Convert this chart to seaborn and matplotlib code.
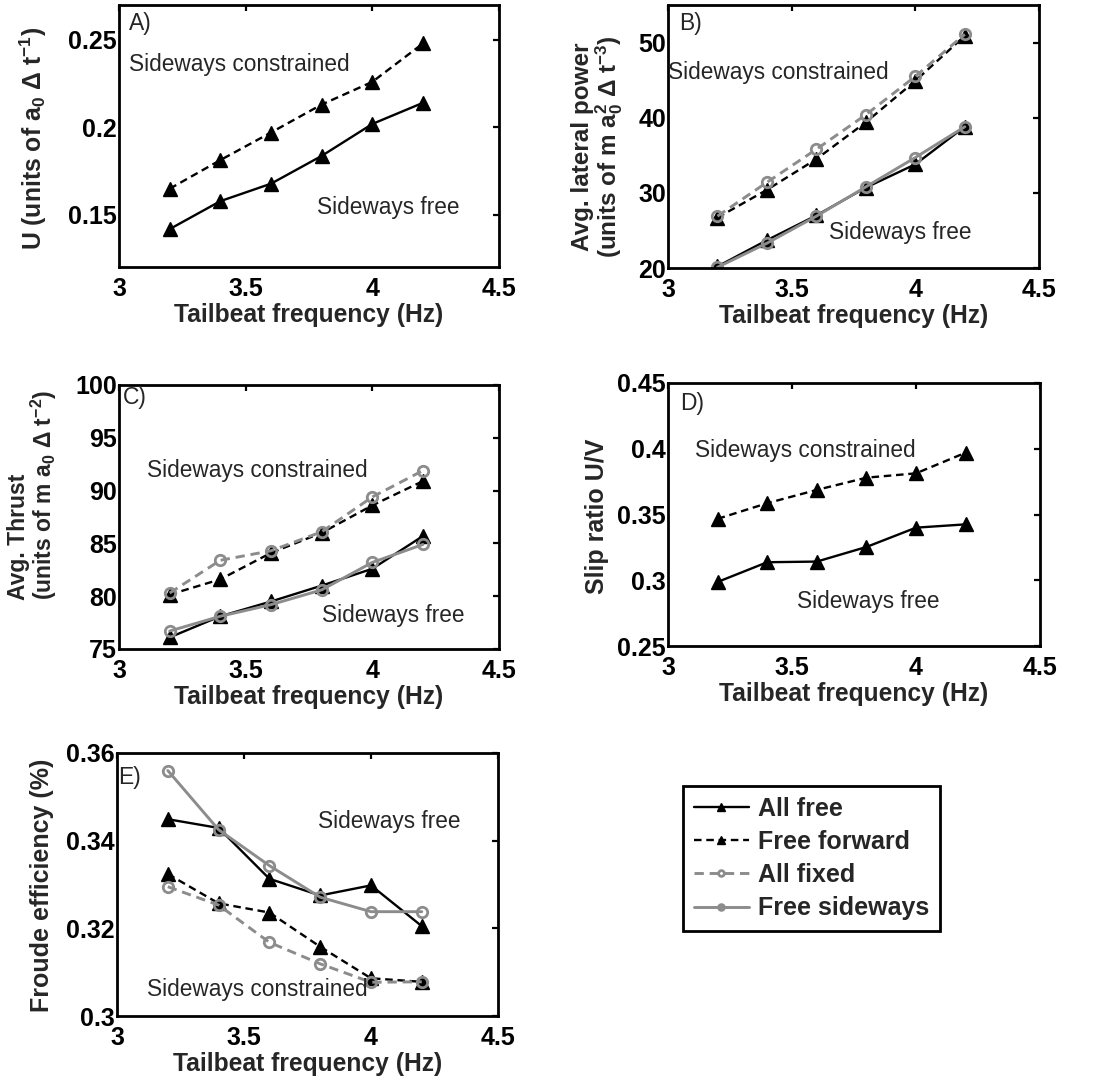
import matplotlib
matplotlib.use("Agg")
import matplotlib.pyplot as plt
from matplotlib.ticker import FixedLocator, FormatStrFormatter
import seaborn as sns

# Tailbeat frequencies (Hz)
freq = [3.2, 3.4, 3.6, 3.8, 4.0, 4.2]

# A) swimming speed U
speed_all_free = [0.1417, 0.1577, 0.1677, 0.1836, 0.2019, 0.2140]
speed_free_forward = [0.1648, 0.1812, 0.1970, 0.2130, 0.2260, 0.2480]

# B) average lateral power
power_all_free = [20.2, 23.7, 27.0, 30.7, 33.8, 38.8]
power_free_forward = [26.7, 30.4, 34.5, 39.4, 44.9, 50.9]
power_all_fixed = [26.9, 31.4, 35.8, 40.4, 45.5, 51.1]
power_free_sideways = [20.1, 23.3, 26.9, 30.8, 34.7, 38.8]

# C) average thrust
thrust_all_free = [76.1, 78.1, 79.5, 81.0, 82.6, 85.7]
thrust_free_forward = [80.15, 81.6, 84.1, 86.0, 88.6, 90.9]
thrust_all_fixed = [80.3, 83.4, 84.3, 86.1, 89.4, 91.9]
thrust_free_sideways = [76.7, 78.1, 79.2, 80.6, 83.2, 84.9]

# D) slip ratio U/V
slip_all_free = [0.2987, 0.3137, 0.3142, 0.3253, 0.3400, 0.3425]
slip_free_forward = [0.3467, 0.3586, 0.3687, 0.3780, 0.3813, 0.3970]

# E) Froude efficiency
eff_all_free = [0.3449, 0.3429, 0.3313, 0.3275, 0.3298, 0.3205]
eff_free_forward = [0.3324, 0.3257, 0.3236, 0.3158, 0.3086, 0.3078]
eff_all_fixed = [0.3295, 0.3253, 0.3168, 0.3119, 0.3077, 0.3078]
eff_free_sideways = [0.3560, 0.3425, 0.3343, 0.3271, 0.3238, 0.3238]

x_ticks = [3, 3.5, 4, 4.5]

sns.set_style("white")
plt.rcParams.update({
    "font.family": ["Liberation Sans", "DejaVu Sans"],
    "font.weight": "bold",
    "mathtext.fontset": "custom",
    "mathtext.rm": "Liberation Sans:bold",
    "mathtext.it": "Liberation Sans:bold",
    "mathtext.bf": "Liberation Sans:bold",
    "mathtext.default": "rm",
    "lines.dashed_pattern": [3.2, 2.0],
    "axes.linewidth": 2.0,
    "axes.edgecolor": "black",
    "xtick.direction": "in",
    "ytick.direction": "in",
    "xtick.top": True,
    "ytick.right": True,
})

GRAY = "#8c8c8c"
STYLE = {
    "All free": dict(color="black", linestyle="-", marker="^", markersize=9.5,
                     markerfacecolor="black", markeredgecolor="black",
                     markeredgewidth=1.0, linewidth=1.7),
    "Free forward": dict(color="black", linestyle="--", marker="^", markersize=9.5,
                         markerfacecolor="black", markeredgecolor="black",
                         markeredgewidth=1.0, linewidth=1.7),
    "All fixed": dict(color=GRAY, linestyle="--", marker="o", markersize=7.5,
                      markerfacecolor="none", markeredgecolor=GRAY,
                      markeredgewidth=2.0, linewidth=2.1),
    "Free sideways": dict(color=GRAY, linestyle="-", marker="o", markersize=7.5,
                          markerfacecolor="none", markeredgecolor=GRAY,
                          markeredgewidth=2.0, linewidth=2.1),
}

W, H = 1095, 1082
fig = plt.figure(figsize=(W / 100, H / 100), dpi=100)


def make_axes(left, top, right, bottom):
    return fig.add_axes([left / W, 1 - bottom / H, (right - left) / W, (bottom - top) / H])


def draw_panel(ax, series, ylim, yticks, tag, tag_pos):
    for name, values in series:
        sns.lineplot(x=freq, y=values, ax=ax, label=name, **STYLE[name])
    if ax.get_legend() is not None:
        ax.get_legend().remove()
    ax.set_xlim(3, 4.5)
    ax.set_ylim(*ylim)
    ax.xaxis.set_major_locator(FixedLocator(x_ticks))
    ax.xaxis.set_major_formatter(FormatStrFormatter("%g"))
    ax.yaxis.set_major_locator(FixedLocator(yticks))
    ax.yaxis.set_major_formatter(FormatStrFormatter("%g"))
    ax.tick_params(axis="both", which="major", length=4.5, width=1.6,
                   labelsize=18, colors="black")
    ax.tick_params(axis="x", pad=7.5)
    ax.tick_params(axis="y", pad=1.5)
    for lab in ax.get_xticklabels() + ax.get_yticklabels():
        lab.set_fontweight("bold")
    ax.set_xlabel("Tailbeat frequency (Hz)", fontsize=17.7, fontweight="bold", labelpad=1)
    ax.set_ylabel("")
    ax.text(tag_pos[0], tag_pos[1], tag, transform=ax.transAxes, ha="left", va="top",
            fontsize=16.5, fontweight="normal")
    for s in ax.spines.values():
        s.set_visible(True)
        s.set_linewidth(2.0)


def note(ax, x, y, text):
    ax.text(x, y, text, ha="left", va="center", fontsize=16.3, fontweight="normal",
            clip_on=False)


# A
axA = make_axes(119, 5, 499, 267)
draw_panel(axA, [("All free", speed_all_free), ("Free forward", speed_free_forward)],
           (0.12, 0.27), [0.15, 0.2, 0.25], "A)", (0.025, 0.975))
note(axA, 3.04, 0.236, "Sideways constrained")
note(axA, 3.78, 0.154, "Sideways free")
fig.text(33 / W, 1 - 138 / H, r"U (units of a$_0$ Δ t$^{-1}$)", rotation=90,
         ha="center", va="center", fontsize=17.8, fontweight="bold")

# B
axB = make_axes(668, 5, 1039, 268)
draw_panel(axB, [("All free", power_all_free), ("Free forward", power_free_forward),
                 ("All fixed", power_all_fixed), ("Free sideways", power_free_sideways)],
           (20, 55), [20, 30, 40, 50], "B)", (0.03, 0.975))
note(axB, 3.0, 46.0, "Sideways constrained")
note(axB, 3.65, 24.7, "Sideways free")
fig.text(598 / W, 1 - 147 / H, "Avg. lateral power\n" + r"(units of m a$_0^2$ Δ t$^{-3}$)",
         rotation=90, ha="center", va="center", fontsize=17.5, fontweight="bold",
         linespacing=0.95, multialignment="center")

# C
axC = make_axes(119, 385, 499, 649)
draw_panel(axC, [("All free", thrust_all_free), ("Free forward", thrust_free_forward),
                 ("All fixed", thrust_all_fixed), ("Free sideways", thrust_free_sideways)],
           (75, 100), [75, 80, 85, 90, 95, 100], "C)", (0.01, 0.995))
note(axC, 3.11, 91.95, "Sideways constrained")
note(axC, 3.80, 78.2, "Sideways free")
fig.text(33 / W, 1 - 600 / H, "Avg. Thrust\n" + r"(units of m a$_0$ Δ t$^{-2}$)",
         rotation=90, ha="center", va="bottom", fontsize=16.5, fontweight="bold",
         linespacing=0.95, multialignment="left")

# D
axD = make_axes(668, 383, 1040, 646)
draw_panel(axD, [("All free", slip_all_free), ("Free forward", slip_free_forward)],
           (0.25, 0.45), [0.25, 0.3, 0.35, 0.4, 0.45], "D)", (0.032, 0.965))
note(axD, 3.11, 0.3986, "Sideways constrained")
note(axD, 3.52, 0.284, "Sideways free")
fig.text(597 / W, 1 - 516 / H, "Slip ratio U/V", rotation=90,
         ha="center", va="center", fontsize=18, fontweight="bold")

# E
axE = make_axes(117, 753, 498, 1016)
draw_panel(axE, [("All free", eff_all_free), ("Free forward", eff_free_forward),
                 ("All fixed", eff_all_fixed), ("Free sideways", eff_free_sideways)],
           (0.30, 0.36), [0.3, 0.32, 0.34, 0.36], "E)", (0.003, 0.95))
note(axE, 3.79, 0.3444, "Sideways free")
note(axE, 3.12, 0.3060, "Sideways constrained")
fig.text(42 / W, 1 - 885 / H, "Froude efficiency (%)", rotation=90,
         ha="center", va="center", fontsize=18, fontweight="bold")

# Shared legend in the empty lower-right slot
handles, labels = axE.get_legend_handles_labels()
leg = fig.legend(handles, labels, loc="upper left",
                 bbox_to_anchor=(683 / W, 1 - 786 / H), bbox_transform=fig.transFigure,
                 frameon=True, fancybox=False, framealpha=1, edgecolor="black",
                 prop={"weight": "bold", "size": 18},
                 markerscale=0.55, handlelength=2.2, handletextpad=0.4,
                 labelspacing=0.37, borderpad=0.42, borderaxespad=0)
leg.get_frame().set_linewidth(2.0)

fig.savefig("out.png", dpi=100)
